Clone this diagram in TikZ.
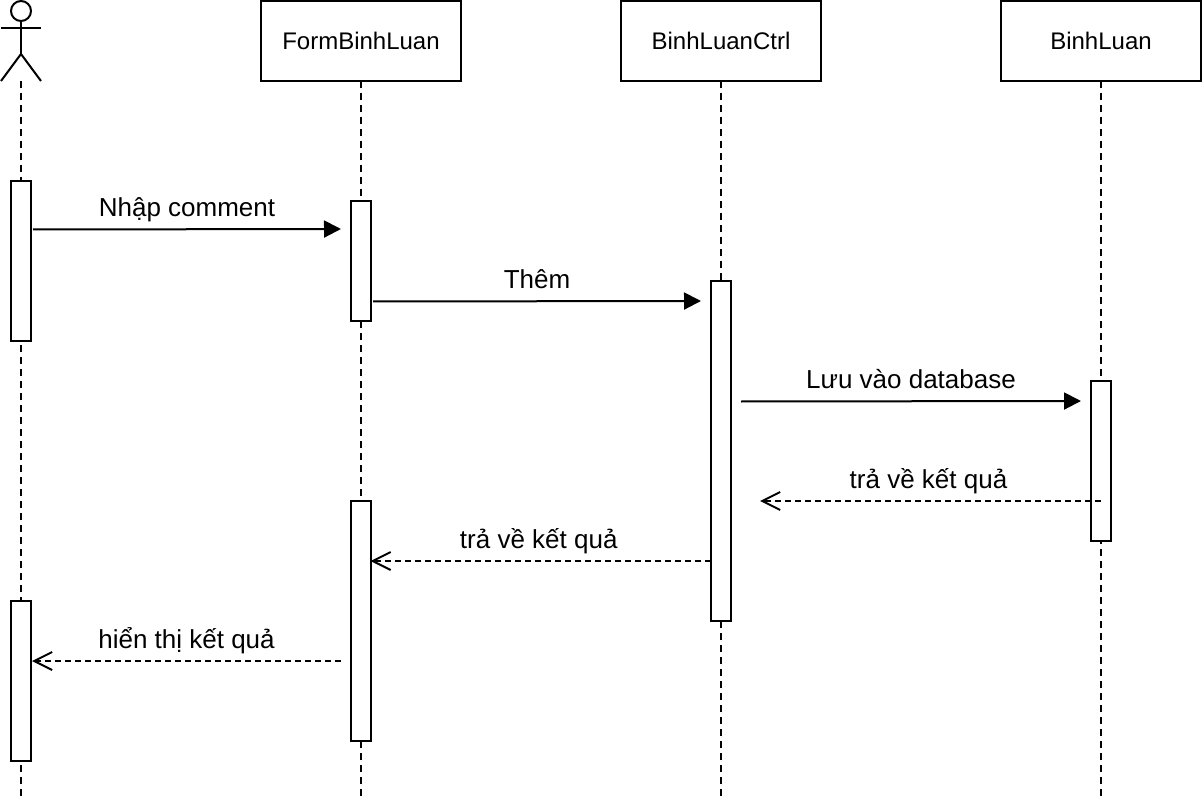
\documentclass[tikz,border=0pt]{standalone}
\usepackage{fontspec}
\setmainfont{Liberation Sans}
\usetikzlibrary{arrows.meta,positioning}
\tikzset{
    head/.style={rectangle,draw,fill=white,line width=2pt,outer sep=0pt,minimum width=200pt,minimum height=80pt,inner sep=0pt,font=\fontsize{24}{28}\selectfont},
    bar/.style={rectangle,draw,fill=white,line width=2pt,minimum width=20pt,inner sep=0pt},
    life/.style={line width=2pt,dash pattern=on 7pt off 5pt},
    call/.style={line width=2pt,-{Triangle[length=17pt,width=17pt]}},
    reply/.style={line width=2pt,dash pattern=on 6pt off 4pt,-{Straight Barb[length=18pt,width=18pt,line width=2pt]}},
    msg/.style={font=\fontsize{26}{30}\selectfont,inner sep=0pt,outer sep=0pt,text depth=0pt,above=13pt}
}
\begin{document}
\begin{tikzpicture}[x=1pt,y=-1pt]
    \useasboundingbox (0,0) rectangle (1202,802);
    % heads
    \node[head] (form) at (361,41) {FormBinhLuan};
    \node[head,right=160pt of form] (ctrl) {BinhLuanCtrl};
    \node[head,right=180pt of ctrl] (binhluan) {BinhLuan};
    % actor
    \node[circle,draw,line width=2pt,minimum size=20pt,inner sep=0pt] (actorhead) at (21,11) {};
    \coordinate (actorhip) at (21,54);
    \coordinate (actorfoot) at (21,81);
    \draw[line width=2pt] (actorhead) -- (actorhip);
    \draw[line width=2pt] (1,28) -- (41,28);
    \draw[line width=2pt] (1,81) -- (actorhip) -- (41,81);
    % lifelines
    \coordinate (actorend) at (21,797);
    \coordinate (formend) at (361,797);
    \coordinate (ctrlend) at (721,797);
    \coordinate (binhluanend) at (1101,797);
    \draw[life] (actorfoot) -- (actorend);
    \draw[life] (form) -- (formend);
    \draw[life] (ctrl) -- (ctrlend);
    \draw[life] (binhluan) -- (binhluanend);
    % activations
    \node[bar,minimum height=160pt] (actorbara) at (21,261) {};
    \node[bar,minimum height=160pt] (actorbarb) at (21,681) {};
    \node[bar,minimum height=120pt] (formbara) at (361,261) {};
    \node[bar,minimum height=240pt] (formbarb) at (361,621) {};
    \node[bar,minimum height=340pt] (ctrlbar) at (721,451) {};
    \node[bar,minimum height=160pt] (binhluanbar) at (1101,461) {};
    % message ends
    \coordinate (nhapa) at (33,229.5);
    \coordinate (nhapb) at (341,229);
    \coordinate (thema) at (373,301.5);
    \coordinate (themb) at (701,301);
    \coordinate (luua) at (741,401.5);
    \coordinate (luub) at (1081,401);
    \coordinate (traa) at (1101,501);
    \coordinate (trab) at (760,501);
    \coordinate (trac) at (711,561);
    \coordinate (trad) at (370.5,561);
    \coordinate (hiena) at (341,661);
    \coordinate (hienb) at (32,661);
    % messages
    \draw[call] (nhapa) -- node[msg] {Nhập comment} (nhapb);
    \draw[call] (thema) -- node[msg] {Thêm} (themb);
    \draw[call] (luua) -- node[msg] {Lưu vào database} (luub);
    \draw[reply] (traa) -- node[msg,xshift=-2pt] {trả về kết quả} (trab);
    \draw[reply] (trac) -- node[msg,xshift=-2pt] {trả về kết quả} (trad);
    \draw[reply] (hiena) -- node[msg] {hiển thị kết quả} (hienb);
\end{tikzpicture}
\end{document}
